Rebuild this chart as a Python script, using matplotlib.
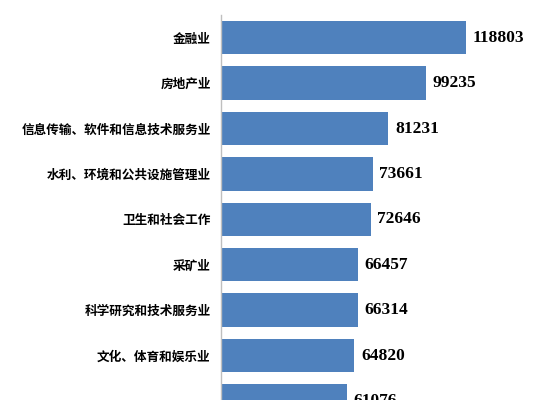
import matplotlib.pyplot as plt

industries = ['金融业', '房地产业', '信息传输、软件和信息技术服务业', '水利、环境和公共设施管理业',
              '卫生和社会工作', '采矿业', '科学研究和技术服务业', '文化、体育和娱乐业', '教育']
wages = [118803, 99235, 81231, 73661, 72646, 66457, 66314, 64820, 61076]

plt.rcParams['font.family'] = ['Noto Sans CJK SC', 'DejaVu Sans']

fig = plt.figure(figsize=(5.51, 4.0), dpi=100)
ax = fig.add_axes([0.4002, 0.0, 1 - 0.4002, 0.9625])

pos = list(range(len(industries)))
ax.barh(pos, wages, height=0.733, color='#4F81BD')

for p, v in zip(pos, wages):
    ax.text(v + 3200, p, str(v), va='center', ha='left',
            family='Liberation Serif', fontweight='bold', fontsize=12.5)

ax.set_yticks(pos)
ax.set_yticklabels(industries, fontsize=9.1, fontweight='bold')
ax.set_ylim(7.98, -0.5)
ax.set_xlim(0, 159900)
ax.set_xticks([])
ax.tick_params(axis='y', length=0, pad=7)

for s in ['top', 'right', 'bottom']:
    ax.spines[s].set_visible(False)
ax.spines['left'].set_color('#BFBFBF')
ax.spines['left'].set_linewidth(1)

fig.savefig('out.png', dpi=100)
